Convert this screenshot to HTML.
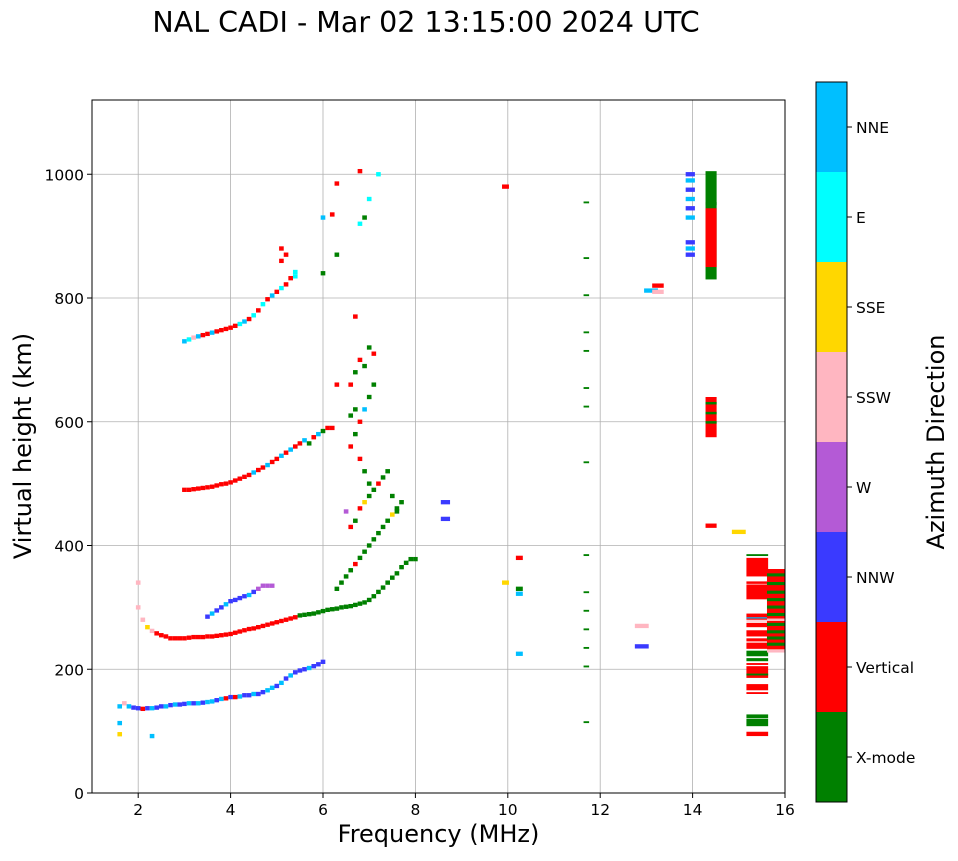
<!DOCTYPE html>
<html><head><meta charset="utf-8"><style>
body{margin:0;background:#fff;font-family:"DejaVu Sans","Liberation Sans",sans-serif}
svg text{font-family:"DejaVu Sans","Liberation Sans",sans-serif}
</style></head><body>
<svg id="c" width="958" height="857" xmlns="http://www.w3.org/2000/svg">
<text x="426" y="32" font-size="28.5" text-anchor="middle">NAL CADI - Mar 02 13:15:00 2024 UTC</text>
<g id="grid"></g><g id="marks"></g><g id="axes"></g><g id="cbar"></g>
</svg>
<script>
const colorNames=["X-mode","Vertical","NNW","W","SSW","SSE","E","NNE"];
const colorVals=["#008000","#ff0000","#3a3aff","#b45ad6","#ffb6c1","#ffd700","#00ffff","#00bfff"];
const xTicks=[2,4,6,8,10,12,14,16];
const yTicks=[0,200,400,600,800,1000];
// Trace A: lower echo ~140-210 km
const aFreq=[1.6,1.7,1.8,1.9,2.0,2.1,2.2,2.3,2.4,2.5,2.6,2.7,2.8,2.9,3.0,3.1,3.2,3.3,3.4,3.5,3.6,3.7,3.8,3.9,4.0,4.1,4.2,4.3,4.4,4.5,4.6,4.7,4.8,4.9,5.0,5.1,5.2,5.3,5.4,5.5,5.6,5.7,5.8,5.9,6.0];
const aHeight=[140,145,140,138,137,136,137,137,138,140,140,142,143,143,144,145,145,145,146,147,148,150,152,153,155,155,156,158,158,160,160,163,166,170,173,178,185,190,195,198,200,202,205,208,212];
const aMode=[7,4,7,2,2,1,2,7,2,2,7,2,7,2,2,7,2,7,2,7,7,2,7,1,2,1,7,2,2,7,2,2,7,7,2,7,2,7,2,2,2,7,2,2,2];
// Trace B: F-layer echo ~250-380 km
const bFreq=[2.0,2.1,2.2,2.3,2.4,2.5,2.6,2.7,2.8,2.9,3.0,3.1,3.2,3.3,3.4,3.5,3.6,3.7,3.8,3.9,4.0,4.1,4.2,4.3,4.4,4.5,4.6,4.7,4.8,4.9,5.0,5.1,5.2,5.3,5.4,5.5,5.6,5.7,5.8,5.9,6.0,6.1,6.2,6.3,6.4,6.5,6.6,6.7,6.8,6.9,7.0,7.1,7.2,7.3,7.4,7.5,7.6,7.7,7.8,7.9,8.0];
const bHeight=[300,280,268,262,258,255,253,250,250,250,250,251,252,252,252,253,253,254,255,256,257,259,261,263,265,266,268,270,272,274,276,278,280,282,284,287,288,289,290,292,294,296,297,298,300,301,302,304,306,308,312,318,325,332,340,348,355,365,372,378,378];
const bMode=[4,4,5,4,1,1,1,1,1,1,1,1,1,1,1,1,1,1,1,1,1,1,1,1,1,1,1,1,1,1,1,1,1,1,1,0,0,0,0,0,0,0,0,0,0,0,0,0,0,0,0,0,0,0,0,0,0,0,0,0,0];
// Trace C: oblique blue ~290-335 km
const cFreq=[3.5,3.6,3.7,3.8,3.9,4.0,4.1,4.2,4.3,4.4,4.5,4.6,4.7,4.8,4.9];
const cHeight=[285,290,295,300,305,310,312,315,318,320,325,330,335,335,335];
const cMode=[2,7,2,2,7,2,2,2,2,7,2,3,3,3,3];
// Trace D: second hop ~490-590 km
const dFreq=[3.0,3.1,3.2,3.3,3.4,3.5,3.6,3.7,3.8,3.9,4.0,4.1,4.2,4.3,4.4,4.5,4.6,4.7,4.8,4.9,5.0,5.1,5.2,5.3,5.4,5.5,5.6,5.7,5.8,5.9,6.0,6.1,6.2];
const dHeight=[490,490,491,492,493,494,495,497,499,500,502,505,508,511,514,518,522,526,530,535,540,545,550,555,560,565,570,565,575,580,585,590,590];
const dMode=[1,1,1,1,1,1,1,1,1,1,1,1,1,1,1,7,1,1,7,1,1,7,1,7,1,1,7,0,1,7,0,1,1];
// Trace E: third hop ~730-880 km
const eFreq=[3.0,3.1,3.2,3.3,3.4,3.5,3.6,3.7,3.8,3.9,4.0,4.1,4.2,4.3,4.4,4.5,4.6,4.7,4.8,4.9,5.0,5.1,5.2,5.3,5.4,5.2,5.1,5.4,5.1];
const eHeight=[730,733,736,738,740,742,744,746,748,750,752,755,758,762,766,772,780,790,798,804,810,816,822,832,842,870,860,835,880];
const eMode=[7,6,4,7,1,1,7,1,1,1,1,1,6,7,1,6,1,6,1,7,1,6,1,1,6,1,1,6,1];
// Cluster F: scattered echoes 6.0-7.8 MHz
const fFreq=[6.3,6.4,6.5,6.6,6.7,6.8,6.9,7.0,7.1,7.2,7.3,7.4,7.5,7.6,7.7,6.6,6.7,6.8,6.9,7.0,7.1,7.2,7.3,7.4,7.5,7.6,6.6,6.7,6.8,6.9,7.0,7.1,6.6,6.7,6.8,6.9,7.0,7.1,6.3,6.6,6.7,6.8,6.9,7.0,6.0,6.0,6.2,6.3,6.7,6.8,6.8,6.9,7.0,7.2,6.3,6.5];
const fHeight=[330,340,350,360,370,380,390,400,410,420,430,440,450,460,470,430,440,460,470,480,490,500,510,520,480,455,560,580,600,620,640,660,660,680,700,690,720,710,660,610,620,540,520,500,840,930,935,870,770,1005,920,930,960,1000,985,455];
const fMode=[0,0,0,0,1,0,0,0,0,0,0,0,5,0,0,1,0,1,5,0,0,1,0,0,0,0,1,0,1,7,0,0,1,0,1,0,0,1,1,0,0,1,0,0,0,7,1,0,1,1,6,0,6,6,1,3];
// Misc isolated echoes (with width in MHz)
const mFreq=[1.6,1.6,2.3,2.0,8.65,8.65,9.95,9.95,10.25,10.25,10.25,10.25,12.9,12.9,13.1,13.25,13.25,13.95,13.95,13.95,13.95,13.95,13.95,13.95,13.95,13.95,14.4,15.0];
const mHeight=[113,95,92,340,470,443,980,340,225,330,322,380,237,270,812,820,810,1000,990,975,960,945,930,890,880,870,432,422];
const mMode=[7,5,7,4,2,2,1,5,7,0,7,1,2,4,7,1,4,2,7,2,7,2,7,2,7,2,1,5];
const mWidth=[0.1,0.1,0.1,0.1,0.2,0.2,0.15,0.15,0.15,0.15,0.15,0.15,0.3,0.3,0.3,0.25,0.25,0.2,0.2,0.2,0.2,0.2,0.2,0.2,0.2,0.2,0.24,0.3];
// Column blocks at 14.4 MHz
const k144Low=[830,850,950,575,597,612,628];
const k144High=[1005,945,955,640,601,616,632];
const k144Mode=[0,1,0,1,0,0,0];
// Column blocks at 15.4 MHz
const k154Low=[383,350,338,313,280,282,277,268,253,245,233,221,213,207,186,166,160,190,108,121,92];
const k154High=[386,380,342,337,290,284,279,275,263,250,243,230,218,210,205,176,163,193,120,127,99];
const k154Mode=[0,1,1,1,1,7,4,1,1,1,1,0,0,1,1,1,1,0,0,0,1];
// Column blocks at 15.8 MHz
const k158Low=[232,350,336,322,310,298,286,270,258,248,238,227,278];
const k158High=[362,355,341,327,315,303,291,275,263,253,243,231,282];
const k158Mode=[1,0,0,0,0,0,0,0,0,0,0,4,4];
// Column ticks at 11.7 MHz
const k117Low=[113,203,233,263,293,323,383,533,623,653,713,743,803,863,953];
const k117High=[116,206,236,266,296,326,386,536,626,656,716,746,806,866,956];
const k117Mode=[0,0,0,0,0,0,0,0,0,0,0,0,0,0,0];

const L=92,R=785,T=100,B=793,X0=1,X1=16,Y0=0,Y1=1120;
const xs=v=>L+(v-X0)/(X1-X0)*(R-L);
const ys=v=>B-(v-Y0)/(Y1-Y0)*(B-T);
const NS="http://www.w3.org/2000/svg";
function mk(t,a,p){const e=document.createElementNS(NS,t);for(const k in a)e.setAttribute(k,a[k]);p.appendChild(e);return e;}
const grid=document.getElementById('grid'),marks=document.getElementById('marks'),axes=document.getElementById('axes'),cb=document.getElementById('cbar');
xTicks.forEach(v=>{const g=mk('line',{x1:xs(v),x2:xs(v),y1:T,y2:B,stroke:'#b0b0b0','stroke-width':0.8},grid);

});
yTicks.forEach(v=>{const g=mk('line',{x1:L,x2:R,y1:ys(v),y2:ys(v),stroke:'#b0b0b0','stroke-width':0.8},grid);

});
function drawPts(F,H,M,W){
 for(let i=0;i<F.length;i++){
  const w2=(W?W[i]:0.1)/2;
  const x=xs(F[i]-w2),w=xs(F[i]+w2)-x,y=ys(H[i]+3.5),h=ys(H[i]-3.5)-y;
  const r=mk('rect',{x:x,y:y,width:w,height:h,fill:colorVals[M[i]]},marks);
  
  
 }
}
function drawCol(f,wd,Lo,Hi,M){
 for(let i=0;i<Lo.length;i++){
  const x=xs(f-wd/2),w=xs(f+wd/2)-x,y=ys(Hi[i]),h=ys(Lo[i])-y;
  const r=mk('rect',{x:x,y:y,width:w,height:h,fill:colorVals[M[i]]},marks);
  
  
 }
}
drawPts(aFreq,aHeight,aMode);
drawPts(bFreq,bHeight,bMode);
drawPts(cFreq,cHeight,cMode);
drawPts(dFreq,dHeight,dMode);
drawPts(eFreq,eHeight,eMode);
drawPts(fFreq,fHeight,fMode);
drawPts(mFreq,mHeight,mMode,mWidth);
drawCol(14.4,0.24,k144Low,k144High,k144Mode);
drawCol(15.4,0.47,k154Low,k154High,k154Mode);
drawCol(15.8,0.38,k158Low,k158High,k158Mode);
drawCol(11.7,0.12,k117Low,k117High,k117Mode);
mk('rect',{x:L,y:T,width:R-L,height:B-T,fill:'none',stroke:'#000','stroke-width':1},axes);
xTicks.forEach(v=>{mk('line',{x1:xs(v),x2:xs(v),y1:B,y2:B+5,stroke:'#000'},axes);
 const t=mk('text',{x:xs(v),y:B+22,'font-size':15.5,'text-anchor':'middle'},axes);t.textContent=v;
 
 });
yTicks.forEach(v=>{mk('line',{x1:L-5,x2:L,y1:ys(v),y2:ys(v),stroke:'#000'},axes);
 const t=mk('text',{x:L-8,y:ys(v)+6,'font-size':15.5,'text-anchor':'end'},axes);t.textContent=v;
 
 });
const xl=mk('text',{x:(L+R)/2,y:842,'font-size':24,'text-anchor':'middle'},axes);xl.textContent='Frequency (MHz)';


const yl=mk('text',{x:0,y:0,'font-size':24,'text-anchor':'middle',transform:'translate(31,446) rotate(-90)'},axes);yl.textContent='Virtual height (km)';


const cT=82,cB=802,cL=816,cW=31,seg=(cB-cT)/colorNames.length;
colorNames.forEach((n,i)=>{const y0=cB-(i+1)*seg;
 const r=mk('rect',{x:cL,y:y0,width:cW,height:seg,fill:colorVals[i]},cb);
 
 
 mk('line',{x1:cL+cW,x2:cL+cW+5,y1:y0+seg/2,y2:y0+seg/2,stroke:'#000'},cb);
 const t=mk('text',{x:cL+cW+9,y:y0+seg/2+6,'font-size':15.5},cb);t.textContent=n;
 
 });
mk('rect',{x:cL,y:cT,width:cW,height:cB-cT,fill:'none',stroke:'#000'},cb);
const ct=mk('text',{x:0,y:0,'font-size':24,'text-anchor':'middle',transform:'translate(944,442) rotate(-90)'},cb);ct.textContent='Azimuth Direction';


</script>
</body></html>
